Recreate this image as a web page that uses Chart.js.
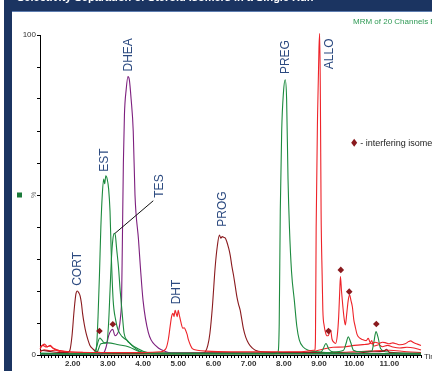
<!DOCTYPE html>
<html>
<head>
<meta charset="utf-8">
<script src="https://cdn.jsdelivr.net/npm/chart.js@4.4.1/dist/chart.umd.min.js"></script>
<style>
  html, body { margin: 0; padding: 0; background: #fff; }
  #wrap { width: 432px; height: 371px; position: relative; }
</style>
</head>
<body>
<div id="wrap"><canvas id="chrom"></canvas></div>
<script>
/* =========================
   DATA
========================= */
const xLabelTicks = [2, 3, 4, 5, 6, 7, 8, 9, 10, 11];
const yTickValues = [0, 10, 20, 30, 40, 50, 60, 70, 80, 90, 100];
const yTickLabels = { 0: '0', 100: '100' };

// maroon channel: CORT + PROG
const maroonT = [1.07, 1.3, 1.6, 1.85, 1.92, 1.98, 2.04, 2.09, 2.13, 2.17, 2.21, 2.25, 2.28, 2.33, 2.38, 2.44, 2.49, 2.58, 2.68, 3.0, 4.0, 5.0, 5.5,
  5.7, 5.77, 5.84, 5.9, 5.97, 6.05, 6.11, 6.17, 6.21, 6.25, 6.29, 6.34, 6.38, 6.43, 6.48, 6.52, 6.57, 6.62, 6.67, 6.71, 6.76, 6.8, 6.85, 6.92, 7.0, 7.1, 7.19, 7.4, 8.0, 9.0, 10.0, 10.5, 10.85, 10.92, 11.0, 11.9];
const maroonV = [1.5, 1.2, 0.8, 0.8, 1.5, 6, 14, 19, 20, 19.5, 18.5, 16, 13, 9.5, 6.8, 4.5, 3, 1.8, 1, 0.6, 0.5, 0.5, 0.5,
  0.6, 1, 3, 6.8, 15, 27.6, 34, 37.5, 36.5, 37, 36.8, 36.5, 35.4, 33.5, 31, 28, 25, 21.5, 18, 16, 14, 11.5, 8.3, 5.5, 3.6, 2.2, 1.5, 1, 0.8, 0.8, 0.6, 1, 1.2, 1.8, 0.8, 0.5];

// green channels: EST, TES, PREG, minor
const estT = [1.07, 2.0, 2.62, 2.68, 2.72, 2.76, 2.8, 2.84, 2.88, 2.91, 2.94, 2.98, 3.02, 3.06, 3.1, 3.15, 3.22, 3.29, 3.4, 3.53, 3.72, 3.9, 4.2, 6.0, 8.0, 11.9];
const estV = [0.5, 0.4, 0.5, 3, 12, 25, 40, 50, 55, 53.5, 56, 55, 52, 45, 30, 17, 11, 7.8, 5.8, 4.7, 2.6, 1.2, 0.5, 0.4, 0.4, 0.4];

const tesT = [1.07, 2.6, 2.68, 2.73, 2.77, 2.82, 2.9, 2.97, 3.02, 3.06, 3.1, 3.14, 3.18, 3.21, 3.25, 3.3, 3.35, 3.39, 3.43, 3.46, 3.55, 3.63, 3.72, 3.82, 4.0, 4.3, 11.9];
const tesV = [0.4, 0.5, 2.5, 4.5, 5.3, 4.8, 3.8, 4, 10, 20, 30, 36, 38, 37.5, 33, 27.6, 20, 15, 10, 6.8, 4.5, 3.6, 2.8, 2.2, 1.2, 0.6, 0.4];

const greenHumpT = [1.07, 2.6, 2.7, 2.8, 3.0, 3.3, 3.6, 3.9, 4.3, 11.9];
const greenHumpV = [0.3, 0.4, 1, 3.5, 3.8, 3.2, 2.5, 1, 0.4, 0.3];

const pregT = [1.07, 5.0, 7.7, 7.8, 7.84, 7.87, 7.9, 7.94, 7.99, 8.04, 8.08, 8.12, 8.16, 8.22, 8.3, 8.37, 8.44, 8.55, 8.7, 9.0, 9.2, 11.9];
const pregV = [0.3, 0.3, 0.4, 0.6, 1, 10, 45, 70, 82, 86, 80, 55, 40, 26, 17, 9, 4.7, 2.5, 1.5, 1, 0.8, 0.3];

const greenIsoT = [1.07, 9.0, 9.1, 9.2, 9.28, 9.4, 9.7, 9.78, 9.83, 9.9, 9.98, 10.2, 10.5, 10.56, 10.62, 10.68, 10.75, 10.9, 11.9];
const greenIsoV = [0.5, 0.5, 1.5, 3.6, 1.8, 1, 1.5, 4, 5.7, 4, 1.5, 1, 1.2, 4, 7.3, 5.5, 2, 1, 0.5];

// purple channel: DHEA
const dheaT = [1.07, 2.8, 2.87, 2.95, 3.02, 3.08, 3.14, 3.2, 3.26, 3.31, 3.36, 3.39, 3.41, 3.44, 3.47, 3.52, 3.57, 3.61, 3.66, 3.72, 3.77, 3.87, 3.92, 4.0, 4.15, 4.39, 4.55, 4.8, 11.9];
const dheaV = [0.3, 0.3, 0.5, 2.5, 6, 7.5, 8, 6, 6.5, 7.8, 12, 18, 34, 60, 75, 83, 87, 86, 80, 70, 50, 36, 28, 17, 7, 2.6, 1.5, 0.6, 0.3];

// red channel: DHT + ALLO + isomers
const redT = [1.07, 1.15, 1.25, 1.35, 1.45, 1.6, 1.8, 2.5, 4.0, 4.5, 4.65, 4.72, 4.77, 4.81, 4.85, 4.88, 4.91, 4.94, 4.97, 5.0, 5.03, 5.07, 5.13, 5.17, 5.2, 5.25, 5.29, 5.35, 5.4, 5.54, 5.8, 6.5, 8.5, 8.85,
  8.88, 8.9, 8.92, 8.96, 9.0, 9.02, 9.04, 9.06, 9.09, 9.11, 9.15, 9.18, 9.22, 9.26, 9.3, 9.33, 9.37, 9.42, 9.47, 9.52, 9.56, 9.59, 9.61, 9.64, 9.68, 9.72, 9.75, 9.79, 9.83, 9.87, 9.91, 9.95, 9.99,
  10.03, 10.08, 10.12, 10.2, 10.27, 10.34, 10.4, 10.45, 10.5, 10.6, 10.71, 10.8, 10.9, 11.0, 11.1, 11.2, 11.3, 11.45, 11.55, 11.6, 11.7, 11.8, 11.9];
const redV = [2.5, 3, 2.5, 2.8, 2, 1.5, 1, 0.8, 0.8, 1, 2, 5, 9, 12, 13, 12, 14, 13, 12, 14, 12.5, 10.5, 8.4, 8.5, 8, 6.5, 4.7, 3, 2, 1.5, 1.2, 1, 1, 1.5,
  1.5, 5, 40, 75, 96, 100.5, 80, 45, 25, 14, 9, 7.3, 6, 6, 7, 7.8, 5, 4, 3.6, 6, 12, 20, 24.5, 20, 15, 11, 9.4, 13, 17, 18.8, 17, 15, 11,
  8.9, 6.5, 5.7, 5, 4.7, 4.5, 5.2, 4, 3.5, 4, 3.6, 4, 3.8, 3.5, 3.8, 3.5, 3.2, 3.5, 4.2, 4.4, 3.8, 3.4, 3];

const redNoiseAT = [1.07, 1.12, 1.2, 1.28, 1.36, 1.44, 1.55, 1.7, 1.9, 2.3, 3.0, 4.0, 5.0, 6.0, 7.0, 8.0, 8.8, 9.1, 9.4, 9.7, 10.0, 10.3, 10.45, 10.5, 10.55, 10.7, 10.8, 10.95, 11.1, 11.3, 11.5, 11.7, 11.9];
const redNoiseAV = [1.8, 2.8, 3.4, 2.6, 3, 2.2, 1.5, 1.2, 1, 0.8, 0.6, 0.5, 0.6, 0.8, 0.7, 0.8, 1, 1.8, 2.4, 2.5, 3, 3.3, 3.6, 4.5, 2.8, 3.2, 2.6, 3, 2.5, 2.2, 2.4, 2.2, 1.6];

const redNoiseBT = [1.07, 1.2, 1.35, 1.5, 1.7, 2.5, 4.0, 6.0, 8.0, 9.0, 10.0, 10.4, 11.0, 11.5, 11.9];
const redNoiseBV = [1, 1.6, 1.3, 1.5, 0.8, 0.4, 0.3, 0.4, 0.4, 0.5, 1, 1.2, 1.5, 1, 0.8];

// interfering isomers (diamonds)
const isoT = [2.76, 3.14, 9.27, 9.62, 9.86, 10.63];
const isoV = [7.5, 9.6, 7.5, 26.6, 19.8, 9.7];

// peak labels (text, time, % position of label centre)
const peakNames = ['CORT', 'EST', 'DHEA', 'TES', 'DHT', 'PROG', 'PREG', 'ALLO'];
const peakLabelT = [2.13, 2.92, 3.6, 4.48, 4.96, 6.25, 8.04, 9.31];
const peakLabelV = [26.9, 60.9, 93.8, 52.8, 19.7, 45.6, 93.1, 94.1];

/* =========================
   COLOURS
========================= */
const MAROON = '#8a1a1e';
const GREEN = '#1c8a3e';
const PURPLE = '#7d1f7e';
const RED = '#ee2329';
const NAVY = '#1b3461';
const LABEL = '#2c4a80';

const pts = (t, v) => t.map((x, i) => ({ x: x, y: v[i] }));

function trace(t, v, color) {
    return {
        data: pts(t, v),
        borderColor: color,
        borderWidth: 1.1,
        pointRadius: 0,
        fill: false,
        cubicInterpolationMode: 'monotone',
        clip: false
    };
}

/* =========================
   DECORATION PLUGIN
========================= */
const decor = {
    id: 'decor',
    beforeDraw(chart) {
        const ctx = chart.ctx;
        ctx.save();
        ctx.fillStyle = '#fff';
        ctx.fillRect(0, 0, chart.width, chart.height);
        // left strip + top band
        ctx.fillStyle = NAVY;
        ctx.fillRect(4, 0, 8, chart.height);
        ctx.fillRect(4, 0, chart.width - 4, 11);
        ctx.fillStyle = '#5d7db0';
        ctx.fillRect(12, 11, chart.width - 12, 1);
        // title in the band, cut off by the top edge
        ctx.fillStyle = '#ffffff';
        ctx.font = 'bold 11px "Liberation Sans", Arial, sans-serif';
        ctx.textBaseline = 'alphabetic';
        ctx.fillText('Selectivity Separation of Steroid Isomers in a Single Run', 17, 1);
        ctx.restore();
    },
    afterDatasetsDraw(chart) {
        const ctx = chart.ctx;
        const xs = chart.scales.x, ys = chart.scales.y;
        ctx.save();

        // peak names, rotated
        ctx.fillStyle = LABEL;
        ctx.font = '12px "Liberation Sans", Arial, sans-serif';
        ctx.textAlign = 'center';
        ctx.textBaseline = 'middle';
        peakNames.forEach((name, i) => {
            ctx.save();
            ctx.translate(xs.getPixelForValue(peakLabelT[i]), ys.getPixelForValue(peakLabelV[i]));
            ctx.rotate(-Math.PI / 2);
            ctx.fillText(name, 0, 0);
            ctx.restore();
        });

        // leader line TES label -> TES peak
        ctx.strokeStyle = '#111';
        ctx.lineWidth = 1;
        ctx.beginPath();
        ctx.moveTo(xs.getPixelForValue(4.29), ys.getPixelForValue(48.2));
        ctx.lineTo(xs.getPixelForValue(3.2), ys.getPixelForValue(38));
        ctx.stroke();

        // legend for isomers
        const lx = xs.getPixelForValue(10.0), ly = ys.getPixelForValue(66.3);
        ctx.fillStyle = MAROON;
        ctx.beginPath();
        ctx.moveTo(lx, ly - 4); ctx.lineTo(lx + 3, ly); ctx.lineTo(lx, ly + 4); ctx.lineTo(lx - 3, ly);
        ctx.closePath(); ctx.fill();
        ctx.fillStyle = '#222';
        ctx.font = '9px "Liberation Sans", Arial, sans-serif';
        ctx.textAlign = 'left';
        ctx.fillText('- interfering isomers', lx + 6, ly + 1);

        // channel caption top right
        ctx.fillStyle = '#2f9a55';
        ctx.font = '8px "Liberation Sans", Arial, sans-serif';
        ctx.fillText('MRM of 20 Channels ES+', 353, 22);

        // axis title stubs
        ctx.fillStyle = '#333';
        ctx.font = '8px "Liberation Sans", Arial, sans-serif';
        ctx.fillText('Time', 424, ys.bottom + 2);

        const py = ys.getPixelForValue(50);
        ctx.save();
        ctx.translate(34, py);
        ctx.rotate(-Math.PI / 2);
        ctx.textAlign = 'center';
        ctx.fillStyle = '#777';
        ctx.font = '7px "Liberation Sans", Arial, sans-serif';
        ctx.fillText('%', 0, 0);
        ctx.restore();

        ctx.fillStyle = '#1a7a3a';
        ctx.fillRect(17, py - 2.5, 5, 5);
        ctx.restore();
    }
};

/* =========================
   CHART
========================= */
const minorTicks = [];
for (let k = 11; k <= 119; k++) minorTicks.push(k / 10);

new Chart(document.getElementById('chrom'), {
    type: 'line',
    data: {
        datasets: [
            {
                data: pts(isoT, isoV),
                showLine: false,
                pointStyle: 'rectRot',
                pointRadius: 3.3,
                pointBackgroundColor: MAROON,
                pointBorderColor: MAROON,
                pointBorderWidth: 0,
                clip: false
            },
            trace(redT, redV, RED),
            trace(pregT, pregV, GREEN),
            trace(tesT, tesV, GREEN),
            trace(estT, estV, GREEN),
            trace(dheaT, dheaV, PURPLE),
            trace(maroonT, maroonV, MAROON),
            trace(greenIsoT, greenIsoV, GREEN),
            trace(greenHumpT, greenHumpV, GREEN),
            trace(redNoiseAT, redNoiseAV, RED),
            trace(redNoiseBT, redNoiseBV, RED)
        ]
    },
    options: {
        responsive: true,
        maintainAspectRatio: false,
        animation: false,
        events: [],
        layout: { padding: { top: 35, right: 11, left: 0, bottom: 0 } },
        plugins: { legend: { display: false }, tooltip: { enabled: false } },
        scales: {
            x: {
                type: 'linear',
                min: 1.07,
                max: 11.9,
                afterBuildTicks: s => { s.ticks = minorTicks.map(v => ({ value: v })); },
                afterFit: s => { s.height = 16; },
                grid: { drawOnChartArea: false, tickLength: 3, color: '#000', tickWidth: 1 },
                border: { color: '#000', width: 1 },
                ticks: {
                    autoSkip: false,
                    maxRotation: 0,
                    minRotation: 0,
                    padding: 1,
                    color: '#333',
                    font: { family: '"Liberation Sans", Arial, sans-serif', size: 8, weight: 'bold' },
                    callback: v => {
                        const k = Math.round(v * 10);
                        return (k % 10 === 0 && xLabelTicks.includes(k / 10)) ? (k / 10).toFixed(2) : '';
                    }
                }
            },
            y: {
                min: 0,
                max: 100,
                afterBuildTicks: s => { s.ticks = yTickValues.map(v => ({ value: v })); },
                afterFit: s => { s.width = 40; },
                grid: { drawOnChartArea: false, tickLength: 3, color: '#000' },
                border: { color: '#000', width: 1 },
                ticks: {
                    padding: 1,
                    color: '#333',
                    font: { family: '"Liberation Sans", Arial, sans-serif', size: 8 },
                    callback: v => yTickLabels[v] || ''
                }
            }
        }
    },
    plugins: [decor]
});
</script>
</body>
</html>
